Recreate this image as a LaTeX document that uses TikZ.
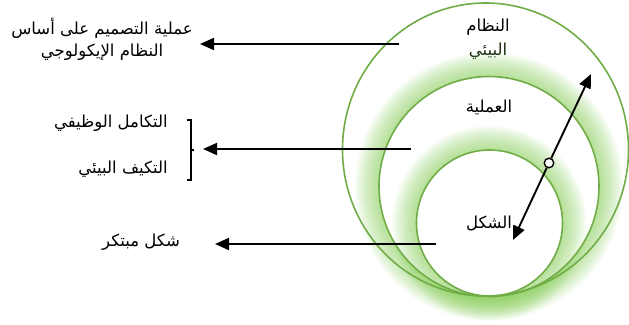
\documentclass[tikz,border=0pt]{standalone}
\usepackage{fontspec}
\usetikzlibrary{arrows.meta}
\TeXXeTstate=1
\newfontfamily\arabicfont[Script=Arabic]{DejaVu Sans}
\definecolor{ringgreen}{RGB}{112,173,71}
\definecolor{glowgreen}{RGB}{125,205,70}
\tikzset{
  ring/.style={draw=ringgreen, line width=1.6pt},
  lbl/.style={font=\arabicfont\fontsize{16.5}{22}\selectfont, inner sep=1pt},
  tipshape/.style={-{Triangle[length=14pt,width=12pt]}},
  pointer/.style={line width=1.9pt, tipshape},
}
\begin{document}
\begin{tikzpicture}[x=1pt, y=-1pt]
\useasboundingbox (0,0) rectangle (629,324);
\fill[white] (0,0) rectangle (629,324);

% outer ring and its label
\fill[white] (485.5,149.5) ellipse [x radius=143, y radius=146.5];
\node[lbl] (sys1) at (488,27) {\beginR النظام\endR};
\node[lbl, text=black!75!ringgreen] (sys2) at (488,51) {\beginR البيئي\endR};

% middle ring with soft green glow
\foreach \k in {12,...,1}
  \fill[glowgreen, opacity=0.06] (489,186.5) circle [radius=110+2*\k];
\fill[white] (489,186.5) circle [radius=110];
\node[lbl] (proc) at (489,107) {\beginR العملية\endR};

% inner ring with soft green glow
\foreach \k in {12,...,1}
  \fill[glowgreen, opacity=0.06] (489.5,223) circle [radius=73+2*\k];
\fill[white] (489.5,223) circle [radius=73];

% ring outlines
\draw[ring] (485.5,149.5) ellipse [x radius=143, y radius=146.5];
\draw[ring] (489,186.5) circle [radius=110];
\draw[ring] (489.5,223) circle [radius=73];

\node[lbl] (shape) at (489,223) {\beginR الشكل\endR};

% radial double arrow through the hub
\coordinate (tipin) at (513,240);
\coordinate (tipout) at (591,74);
\node[circle, draw=black, fill=white, line width=1.4pt, minimum size=9.5pt, inner sep=0pt] (hub) at (549,163) {};
\draw[pointer] (hub) -- (tipin);
\draw[pointer] (hub) -- (tipout);

% left-hand labels
\node[lbl, align=center] (design) at (102,39)
  {\beginR عملية التصميم على أساس\endR\\\beginR النظام الإيكولوجي\endR};
\node[lbl, anchor=east] (integ) at (169,123) {\beginR التكامل الوظيفي\endR};
\node[lbl, anchor=east] (adapt) at (169,169) {\beginR التكيف البيئي\endR};
\node[lbl] (novel) at (141,242) {\beginR شكل مبتكر\endR};

% bracket grouping the two middle labels
\coordinate (brk) at (191,150);
\draw[line width=1.4pt] (186.5,120) -- (191,120) -- (191,180) -- (186.5,180);
\draw[line width=1.4pt] (brk) -- ++(2.5,0);

% pointers from the rings to the labels
\coordinate (s1) at (399,44);
\coordinate (e1) at (200,44);
\coordinate (s2) at (411,149);
\coordinate (e2) at (203,149);
\coordinate (s3) at (436,244);
\coordinate (e3) at (215,244);
\draw[pointer] (s1) -- (e1);
\draw[pointer] (s2) -- (e2);
\draw[pointer] (s3) -- (e3);
\end{tikzpicture}
\end{document}
